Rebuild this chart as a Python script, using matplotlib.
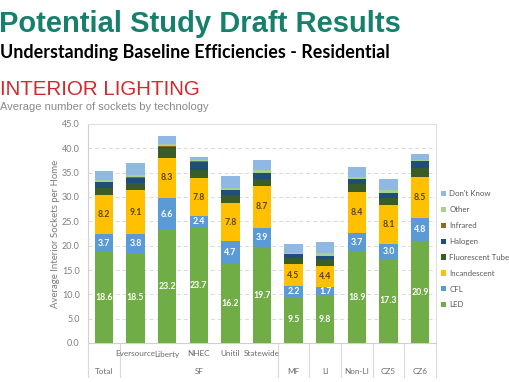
import matplotlib
matplotlib.use("Agg")
import matplotlib.pyplot as plt
from matplotlib.lines import Line2D
from matplotlib.patches import Patch
import numpy as np

categories = ["Total", "Eversource", "Liberty", "NHEC", "Unitil", "Statewide",
              "MF", "LI", "Non-LI", "CZ5", "CZ6"]
group_labels = ["Total", "SF", "MF", "LI", "Non-LI", "CZ5", "CZ6"]
series_names = ["LED", "CFL", "Incandescent", "Fluorescent Tube", "Halogen",
                "Infrared", "Other", "Don't Know"]
led = [18.6, 18.5, 23.2, 23.7, 16.2, 19.7, 9.5, 9.8, 18.9, 17.3, 20.9]
cfl = [3.7, 3.8, 6.6, 2.4, 4.7, 3.9, 2.2, 1.7, 3.7, 3.0, 4.8]
incandescent = [8.2, 9.1, 8.3, 7.8, 7.8, 8.7, 4.5, 4.4, 8.4, 8.1, 8.5]
fluorescent = [1.4, 1.5, 1.9, 1.7, 1.7, 1.5, 1.2, 1.4, 1.7, 1.4, 1.7]
halogen = [1.1, 1.1, 0.3, 1.6, 1.0, 1.1, 0.8, 0.5, 1.0, 1.0, 1.4]
infrared = [0.1, 0.1, 0.1, 0.1, 0.1, 0.1, 0.1, 0.1, 0.1, 0.1, 0.1]
other = [0.4, 0.5, 0.5, 0.2, 0.4, 0.5, 0.2, 0.6, 0.4, 0.5, 0.1]
dont_know = [1.9, 2.3, 1.7, 0.8, 2.4, 2.1, 1.9, 2.2, 2.0, 2.4, 1.4]

series = [led, cfl, incandescent, fluorescent, halogen, infrared, other, dont_know]
colors = ["#70ad47", "#5b9bd5", "#ffc000", "#385d27", "#1f4e79", "#8c6d1f",
          "#a9d18e", "#8fb8e2"]
label_colors = ["white", "white", "#5a4500", None, None, None, None, None]

fig = plt.figure(figsize=(5.10, 3.82), dpi=100)
W, H = 510, 382

def fx(px):
    return px / W

def fy(py):
    return 1 - py / H

# Header text
fig.text(fx(-1), fy(32), "Potential Study Draft Results", family="Liberation Sans",
         fontsize=21, color="#17806d", fontweight="bold", va="baseline", ha="left")
fig.text(fx(0), fy(58), "Understanding Baseline Efficiencies - Residential", family="Lato",
         fontsize=12.9, color="black", fontweight="bold", va="baseline", ha="left")
fig.text(fx(0), fy(95), "INTERIOR LIGHTING", family="Liberation Sans",
         fontsize=14.8, color="#d0292e", va="baseline", ha="left")
fig.text(fx(0), fy(110), "Average number of sockets by technology", family="Liberation Sans",
         fontsize=8, color="#8a8a8a", va="baseline", ha="left")

ax = fig.add_axes([fx(88), fy(343), (436 - 88) / W, (343 - 124) / H])
x = np.arange(len(categories))
bottom = np.zeros(len(categories))
for vals, col, lc in zip(series, colors, label_colors):
    vals = np.array(vals)
    ax.bar(x, vals, width=0.58, bottom=bottom, color=col, zorder=3)
    if lc is not None:
        for xi, b, v in zip(x, bottom, vals):
            ax.text(xi, b + v / 2, f"{v:.1f}", ha="center", va="center",
                    fontsize=6.3, color=lc, fontweight="bold", family="Lato", zorder=4)
    bottom += vals

ax.set_xlim(-0.5, len(categories) - 0.5)
ax.set_ylim(0, 45)
ax.set_yticks(np.arange(0, 45.1, 5))
ax.set_yticklabels([f"{v:.1f}" for v in np.arange(0, 45.1, 5)], family="Lato",
                   fontsize=6.5, color="#7f7f7f")
ax.tick_params(axis="y", length=0, pad=6)
ax.set_xticks([])
ax.grid(axis="y", color="#d9d9d9", linestyle=(0, (4, 3)), linewidth=0.7, zorder=0)
for s in ["top", "right"]:
    ax.spines[s].set_color("#e0e0e0")
ax.spines["left"].set_color("#d0d0d0")
ax.spines["bottom"].set_color("#d0d0d0")
for s in ax.spines.values():
    s.set_linewidth(0.8)

ax.set_ylabel("Average Interior Sockets per Home", family="Lato", fontsize=6.9,
               color="#7a7a7a", labelpad=1)

# Multi-level category axis
trans = ax.get_xaxis_transform()
ah = 343 - 124
y1 = -11 / ah
y2 = -28 / ah
ybot = -34 / ah
for i, c in enumerate(categories[1:6], start=1):
    ax.text(i, y1, c, transform=trans, ha="center", va="center", fontsize=5.9,
            family="Lato", color="#6a6a6a", clip_on=False)
group_pos = [0, 3, 6, 7, 8, 9, 10]
for gp, gl in zip(group_pos, group_labels):
    ax.text(gp, y2, gl, transform=trans, ha="center", va="center", fontsize=5.9,
            family="Lato", color="#6a6a6a", clip_on=False)
for b in [-0.5, 0.5, 5.5, 6.5, 7.5, 8.5, 9.5, 10.5]:
    ax.add_line(Line2D([b, b], [0, ybot], transform=trans, color="#d9d9d9",
                       linewidth=0.8, clip_on=False))

# Legend
handles = [Patch(facecolor=c, edgecolor="none") for c in colors]
leg = fig.legend(handles[::-1], series_names[::-1], loc="upper left",
                 bbox_to_anchor=(fx(435), fy(184)), frameon=False,
                 prop={"family": "Lato", "size": 5.7}, labelcolor="#595959",
                 handlelength=0.65, handleheight=0.65, handletextpad=0.35,
                 labelspacing=1.12, borderpad=0.3)

fig.savefig("out.png", dpi=100)
